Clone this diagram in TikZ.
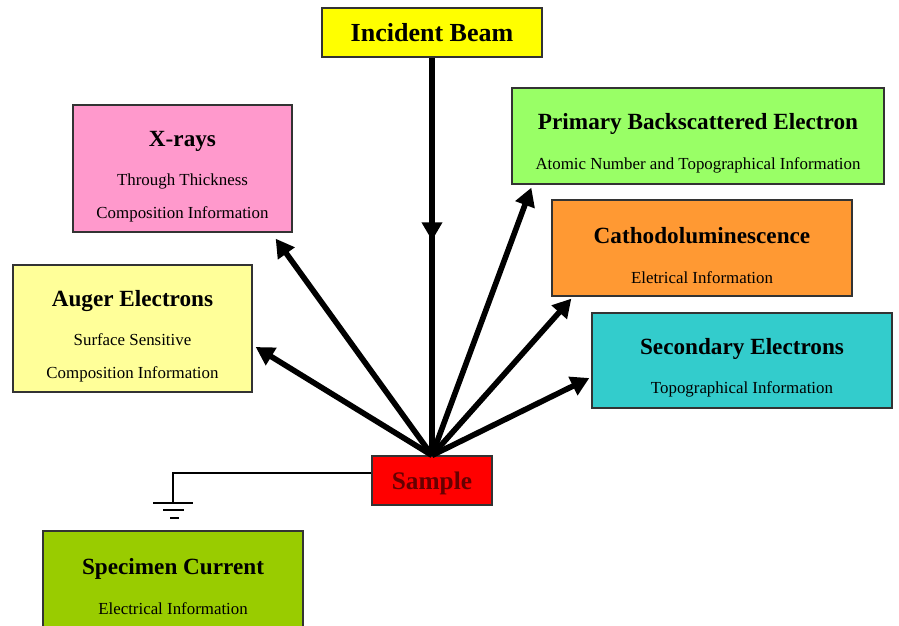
\documentclass[tikz,border=0pt]{standalone}
\usepackage{fontspec}
\setmainfont{Liberation Serif}
\usetikzlibrary{arrows.meta,decorations.markings}

\definecolor{beamyellow}{HTML}{FFFF00}
\definecolor{xraypink}{HTML}{FF99CC}
\definecolor{bsegreen}{HTML}{99FF66}
\definecolor{clorange}{HTML}{FF9933}
\definecolor{augeryellow}{HTML}{FFFF99}
\definecolor{seteal}{HTML}{33CCCC}
\definecolor{samplered}{HTML}{FF0000}
\definecolor{specolive}{HTML}{99CC00}

\newcommand\boxhead[1]{{\fontsize{16.5}{23}\selectfont\bfseries\rule{0pt}{22pt}#1}}

\tikzset{
  beamarrow/.style={decoration={markings,
      mark=at position 0.46 with {\arrow{Triangle[length=13pt,width=14pt]}}},
    postaction={decorate}}
}

\begin{document}
\begin{tikzpicture}[x=0.025cm,y=-0.025cm]
    \clip (0,0) rectangle (899,625);
    \fill[white] (0,0) rectangle (899,625);
    \begin{scope}[every node/.style={draw=black!80,line width=0.9pt,inner sep=0pt,
        align=center,font=\fontsize{12}{23}\selectfont}]
      \node (beam)[fill=beamyellow,minimum width=5.5cm,minimum height=1.225cm] at (432,32.5)
        {\fontsize{18.5}{22}\selectfont\bfseries Incident Beam};
      \node (xray)[fill=xraypink,minimum width=5.475cm,minimum height=3.175cm] at (182.5,168.5)
        {\boxhead{X-rays}\\[5pt] Through Thickness\\ Composition Information};
      \node (bse)[fill=bsegreen,minimum width=9.3cm,minimum height=2.4cm] at (698,136)
        {\boxhead{Primary Backscattered Electron}\\[5pt] Atomic Number and Topographical Information};
      \node (cl)[fill=clorange,minimum width=7.5cm,minimum height=2.4cm] at (702,248)
        {\boxhead{Cathodoluminescence}\\[5pt] Eletrical Information};
      \node (auger)[fill=augeryellow,minimum width=5.975cm,minimum height=3.175cm] at (132.5,328.5)
        {\boxhead{Auger Electrons}\\[5pt] Surface Sensitive\\ Composition Information};
      \node (se)[fill=seteal,minimum width=7.5cm,minimum height=2.375cm] at (742,360.5)
        {\boxhead{Secondary Electrons}\\[5pt] Topographical Information};
      \node (sample)[fill=samplered,minimum width=3cm,minimum height=1.225cm,
        text=red!40!black] at (432,480.5)
        {\fontsize{18}{22}\selectfont\bfseries\rule{0pt}{16pt}Sample};
      \node (spec)[fill=specolive,minimum width=6.5cm,minimum height=2.4cm] at (173,579)
        {\boxhead{Specimen Current}\\[5pt] Electrical Information};
    \end{scope}
    % incident beam onto the sample
    \draw[line width=4pt,beamarrow] (beam.south) -- (sample.north);
    % signals leaving the sample
    \begin{scope}[every edge/.style={draw=black,line width=4pt,
        -{Triangle[length=13pt,width=14pt]}}]
      \path (sample.north) edge ([shift={(-17,6)}]xray.south east)
            (sample.north) edge ([shift={(3,18.5)}]auger.east)
            (sample.north) edge ([shift={(20,3)}]bse.south west)
            (sample.north) edge ([shift={(20,2)}]cl.south west)
            (sample.north) edge ([shift={(-2,17.5)}]se.west);
    \end{scope}
    % ground
    \coordinate (gnd) at (173,503);
    \draw[line width=1.1pt] ([shift={(0,-7.5)}]sample.west) -| (gnd);
    \draw[line width=1.5pt] ([shift={(-20,0)}]gnd) -- ([shift={(20,0)}]gnd)
                            ([shift={(-10,7)}]gnd) -- ([shift={(11,7)}]gnd)
                            ([shift={(-3,15)}]gnd) -- ([shift={(6,15)}]gnd);
\end{tikzpicture}
\end{document}
